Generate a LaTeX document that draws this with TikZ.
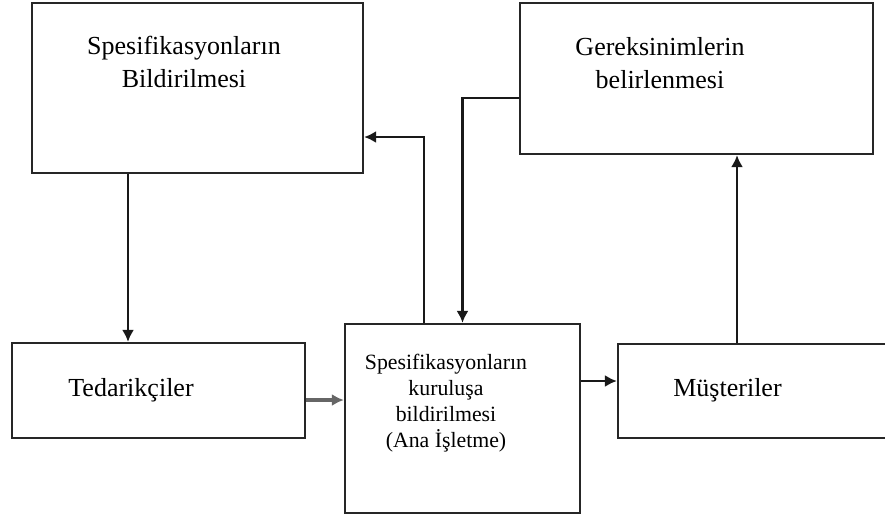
\documentclass[tikz,border=0pt]{standalone}
\usepackage{fontspec}
\setmainfont{Liberation Serif}
\usepackage{tikz}
\usetikzlibrary{arrows.meta}
\usetikzlibrary{calc}

\tikzset{
  kutu/.style={draw=black!85,line width=1.6pt,fill=white,inner sep=0pt},
  yazi/.style={align=center,font=\fontsize{18.5}{23.4}\selectfont},
  kucukyazi/.style={align=center,font=\fontsize{15.5}{18.6}\selectfont},
  ok/.style={black!90,line width=1.5pt,-{Latex[length=8.5pt,width=8.5pt]}},
}

\begin{document}
\begin{tikzpicture}[x=0.025cm,y=-0.025cm]
\clip (0,0) rectangle (885,516);
\fill[white] (0,0) rectangle (885,516);

% kutular
\node[kutu,minimum width=8.275cm,minimum height=4.25cm] (spes) at (197.5,88) {};
\node[kutu,minimum width=8.825cm,minimum height=3.775cm] (gerek) at (696.5,78.5) {};
\node[kutu,minimum width=7.325cm,minimum height=2.375cm] (tedarik) at (158.5,390.5) {};
\node[kutu,minimum width=5.875cm,minimum height=4.725cm] (merkez) at (462.5,418.5) {};
\node[kutu,minimum width=6.8cm,minimum height=2.35cm] (must) at (754,391) {};

% yazilar
\node[yazi] (spesyazi) at (184,62) {Spesifikasyonların\\Bildirilmesi};
\node[yazi] (gerekyazi) at (660,63) {Gereksinimlerin\\belirlenmesi};
\node[yazi] (tedarikyazi) at (131,390) {Tedarikçiler};
\node[kucukyazi] (merkezyazi) at (446,403) {Spesifikasyonların\\kuruluşa\\bildirilmesi\\(Ana İşletme)};
\node[yazi] (mustyazi) at (727.5,390) {Müşteriler};

% oklar
\draw[ok] (spes.south -| 128,0) -- (tedarik.north -| 128,0);
\draw[ok,black!60,line width=2.2pt] (tedarik.east |- 0,400) -- (merkez.west |- 0,400);
\draw[ok] (merkez.north -| 424,0) |- (spes.east |- 0,137);
\draw[ok] (gerek.west |- 0,98) -| (merkez.north);
\draw[ok] (merkez.east |- 0,381) -- (must.west |- 0,381);
\draw[ok] (must.north -| 737,0) -- (gerek.south -| 737,0);
\end{tikzpicture}
\end{document}
